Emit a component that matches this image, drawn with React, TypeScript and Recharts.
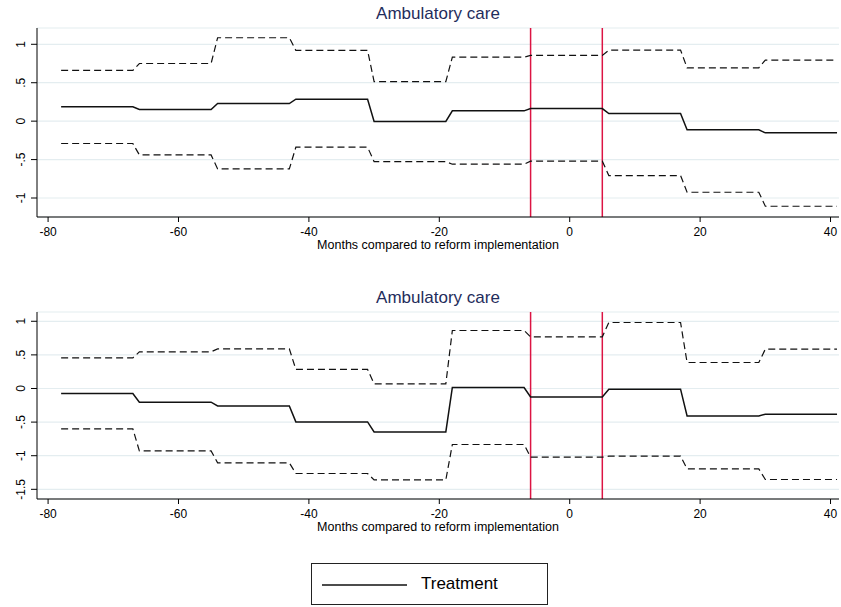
import { LineChart, Line, XAxis, YAxis, CartesianGrid, ReferenceLine } from 'recharts';

// months at each end of a 12-month step (values are flat inside a step)
const months = [-78, -67, -66, -55, -54, -43, -42, -31, -30, -19, -18, -7, -6, 5, 6, 17, 18, 29, 30, 41];

const topUpper = [0.66, 0.66, 0.75, 0.75, 1.085, 1.085, 0.92, 0.92, 0.515, 0.515, 0.833, 0.833, 0.855, 0.855, 0.924, 0.924, 0.694, 0.694, 0.794, 0.794];
const topEst = [0.186, 0.186, 0.151, 0.151, 0.229, 0.229, 0.286, 0.286, -0.004, -0.004, 0.134, 0.134, 0.164, 0.164, 0.099, 0.099, -0.113, -0.113, -0.152, -0.152];
const topLower = [-0.291, -0.291, -0.439, -0.439, -0.621, -0.621, -0.339, -0.339, -0.526, -0.526, -0.56, -0.56, -0.521, -0.521, -0.708, -0.708, -0.925, -0.925, -1.107, -1.107];

const botUpper = [0.455, 0.455, 0.545, 0.545, 0.59, 0.59, 0.283, 0.283, 0.069, 0.069, 0.863, 0.863, 0.768, 0.768, 0.982, 0.982, 0.387, 0.387, 0.585, 0.585];
const botEst = [-0.074, -0.074, -0.204, -0.204, -0.259, -0.259, -0.497, -0.497, -0.646, -0.646, 0.015, 0.015, -0.125, -0.125, -0.01, -0.01, -0.408, -0.408, -0.382, -0.382];
const botLower = [-0.601, -0.601, -0.929, -0.929, -1.107, -1.107, -1.265, -1.265, -1.36, -1.36, -0.833, -0.833, -1.022, -1.022, -1.007, -1.007, -1.196, -1.196, -1.354, -1.354];

const xTicks = [-80, -60, -40, -20, 0, 20, 40];
const topYTicks = [-1, -0.5, 0, 0.5, 1];
const botYTicks = [-1.5, -1, -0.5, 0, 0.5, 1];
const reformLines = [-6, 5];

const FONT = '"Liberation Sans", Arial, sans-serif';

const build = (up: number[], est: number[], lo: number[]) =>
  months.map((m, i) => ({ m, upper: up[i], est: est[i], lower: lo[i] }));

const fmtY = (v: number) => (v === 0 ? '0' : String(v).replace('0.', '.'));

const YTick = ({ x, y, payload }: any) => (
  <text x={x} y={y} transform={`rotate(-90 ${x} ${y})`} textAnchor="middle"
    fontSize={12} fontFamily={FONT} fill="#000">
    {fmtY(payload.value)}
  </text>
);

interface PanelProps {
  top: number;
  height: number;
  marginTop: number;
  data: any[];
  yTicks: number[];
  yDomain: [number, number];
}

function Panel({ top, height, marginTop, data, yTicks, yDomain }: PanelProps) {
  return (
    <div style={{ position: 'absolute', left: 0, top, width: 841, height }}>
      {/* title */}
      <div style={{
        position: 'absolute', left: 37, width: 802, top: marginTop - 23, textAlign: 'center',
        fontFamily: FONT, fontSize: 17, lineHeight: '17px', color: '#1F2D5C',
      }}>
        Ambulatory care
      </div>
      <LineChart width={841} height={height} data={data}
        margin={{ top: marginTop, right: 2, left: 13, bottom: 0 }}>
        <CartesianGrid vertical={false} stroke="#E4EDF0" strokeWidth={1.2} />
        <XAxis
          dataKey="m" type="number" domain={[-81.7, 41.3]} ticks={xTicks} allowDataOverflow
          height={43} tickSize={5} tickMargin={5}
          axisLine={{ stroke: '#000' }} tickLine={{ stroke: '#000' }}
          tick={{ fontSize: 12, fontFamily: FONT, fill: '#000' }}
          label={{ value: 'Months compared to reform implementation', position: 'insideBottom', offset: 11,
            style: { fontSize: 12.5, fontFamily: FONT, fill: '#000' } }}
        />
        <YAxis
          type="number" domain={yDomain} ticks={yTicks} allowDataOverflow width={24}
          tickSize={6} tickMargin={6}
          axisLine={{ stroke: '#000' }} tickLine={{ stroke: '#000' }}
          tick={<YTick />}
        />
        {reformLines.map((x) => (
          <ReferenceLine key={x} x={x} stroke="#DC1443" strokeWidth={1.5} />
        ))}
        <Line dataKey="upper" type="linear" stroke="#111" strokeWidth={1.2} strokeDasharray="7 4"
          dot={false} isAnimationActive={false} />
        <Line dataKey="est" type="linear" stroke="#111" strokeWidth={1.5}
          dot={false} isAnimationActive={false} />
        <Line dataKey="lower" type="linear" stroke="#111" strokeWidth={1.2} strokeDasharray="7 4"
          dot={false} isAnimationActive={false} />
      </LineChart>
    </div>
  );
}

export default function App() {
  return (
    <div style={{ position: 'absolute', left: 0, top: 0, width: 841, height: 607, background: '#fff' }}>
      <Panel top={0} height={260} marginTop={28} data={build(topUpper, topEst, topLower)}
        yTicks={topYTicks} yDomain={[-1.247, 1.212]} />
      <Panel top={280} height={262} marginTop={32} data={build(botUpper, botEst, botLower)}
        yTicks={botYTicks} yDomain={[-1.644, 1.138]} />

      {/* legend */}
      <div style={{
        position: 'absolute', left: 311, top: 563, width: 235, height: 40,
        border: '1px solid #222', background: '#fff',
      }}>
        <svg width={100} height={40} style={{ position: 'absolute', left: 0, top: 0 }}>
          <line x1={10} x2={95} y1={21} y2={21} stroke="#111" strokeWidth={1.5} />
        </svg>
        <div style={{
          position: 'absolute', left: 109, top: 11, fontFamily: FONT, fontSize: 17,
          lineHeight: '17px', color: '#000',
        }}>
          Treatment
        </div>
      </div>
    </div>
  );
}
